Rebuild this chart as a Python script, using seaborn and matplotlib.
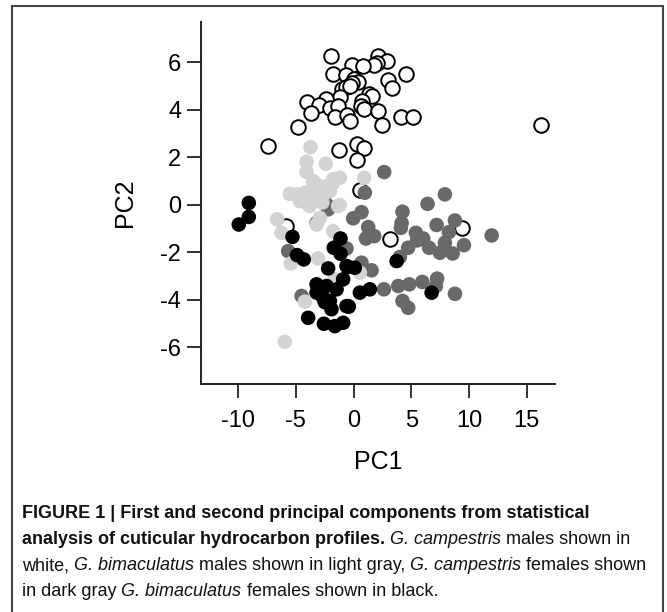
import numpy as np
import pandas as pd
import matplotlib
matplotlib.use("Agg")
import matplotlib.pyplot as plt
import seaborn as sns

# G. campestris males (white)
camp_m_pc1 = [-1.97, 2.13, 2.86, 1.99, 1.79, -0.17, 0.83, -1.77, -0.69, 4.53, 0.05, 0.40,
              -0.17, 3.00, 3.35, -1.04, -0.69, -0.32, 1.33, 1.61, -1.19, -2.40, -4.07, -2.98,
              -2.05, -1.33, 0.69, 0.63, 0.92, 2.13, -3.70, -1.62, -0.61, -0.32, 2.48, 4.10,
              5.11, -4.80, -7.40, -1.27, 0.26, 0.92, 0.26, 16.2, 0.55, 3.17, 9.36, -5.89]
camp_m_pc2 = [6.29, 6.29, 6.05, 5.98, 5.88, 5.91, 5.84, 5.49, 5.46, 5.52, 5.28, 5.18,
              5.14, 5.24, 4.93, 4.88, 4.96, 5.00, 4.65, 4.58, 4.53, 4.44, 4.34, 4.20,
              4.06, 4.16, 4.37, 4.18, 4.02, 3.95, 3.87, 3.69, 3.80, 3.55, 3.38, 3.69,
              3.69, 3.28, 2.47, 2.29, 2.58, 2.40, 1.87, 3.36, 0.61, -1.46, -0.97, -0.90]

# G. bimaculatus males (light gray)
bima_m_pc1 = [-3.73, -4.07, -2.40, -4.07, -3.50, -1.77, -1.19, 0.92, -3.20, -2.34, -1.77,
              -5.52, -4.94, -4.22, -3.50, -4.65, -4.07, -3.79, -3.20, -2.63, -2.05, -1.33,
              -2.92, -3.20, -6.62, -6.24, -1.77, -3.07, -5.43, -4.22, -5.95, -1.19, 0.55,
              -1.62, -4.40, -2.70]
bima_m_pc2 = [2.43, 1.81, 1.73, 1.38, 1.00, 1.07, 1.14, 1.14, 0.86, 0.79, 0.93,
              0.46, 0.44, 0.51, 0.44, 0.16, 0.08, -0.05, 0.29, 0.44, 0.58, -0.05,
              -0.55, -0.83, -0.61, -1.18, -1.11, -2.26, -2.47, -4.08, -5.77, -0.01, -2.86,
              -3.14, 0.20, 0.10]

# G. campestris females (dark gray)
camp_f_pc1 = [2.65, 7.91, 6.41, 0.98, 4.24, 0.69, -0.03, 4.16, 4.10, 1.27, 1.79, 1.07,
              7.19, 8.78, 8.26, 5.40, 6.03, 5.51, 4.73, 6.55, 7.91, 7.48, 8.58, 9.56,
              11.96, 4.01, 0.69, 1.56, -0.61, 2.63, 3.87, 4.82, 5.95, 7.24, 7.13, 8.78,
              4.24, 4.73, -2.34, -2.20, -3.20, -5.66, -4.50]
camp_f_pc2 = [1.38, 0.44, 0.04, 0.51, -0.29, -0.31, -0.57, -0.77, -0.97, -0.94, -1.32, -1.42,
              -0.85, -0.66, -1.15, -1.18, -1.42, -1.50, -1.81, -1.81, -1.60, -2.02, -2.05, -1.70,
              -1.29, -2.20, -2.44, -2.76, -1.84, -3.56, -3.42, -3.35, -3.25, -3.11, -3.42, -3.75,
              -4.05, -4.34, 0.02, -0.19, -0.76, -1.95, -3.84]

# G. bimaculatus females (black)
bima_f_pc1 = [-9.07, -9.07, -9.94, -5.29, -1.13, -1.71, -1.13, -0.61, -4.89, -4.31, -2.20,
              -3.20, -2.34, -1.47, -0.90, -3.20, -2.63, -2.05, -1.91, -3.93, -2.57, -1.62,
              -0.90, -0.61, 3.73, -0.47, 0.11, 0.55, 1.41, 6.76, -0.47, -2.49, -0.41]
bima_f_pc2 = [0.08, -0.51, -0.83, -1.35, -1.42, -1.81, -2.06, -2.58, -2.12, -2.30, -2.68,
              -3.35, -3.42, -3.56, -3.14, -3.70, -3.92, -4.05, -4.40, -4.76, -5.01, -5.11,
              -4.97, -4.27, -2.37, -2.62, -2.65, -3.70, -3.56, -3.70, -4.27, -4.10, -4.29]

x_ticks = [-10, -5, 0, 5, 10, 15]
y_ticks = [-6, -4, -2, 0, 2, 4, 6]

caption = [
    [("FIGURE 1 | First and second principal components from statistical", "bold", "normal")],
    [("analysis of cuticular hydrocarbon profiles.", "bold", "normal"),
     (" G. campestris", "normal", "italic"), (" males shown in", "normal", "normal")],
    [("white, ", "normal", "normal"), ("G. bimaculatus", "normal", "italic"),
     (" males shown in light gray, ", "normal", "normal"), ("G. campestris", "normal", "italic"),
     (" females shown", "normal", "normal")],
    [("in dark gray ", "normal", "normal"), ("G. bimaculatus", "normal", "italic"),
     (" females shown in black.", "normal", "normal")],
]

sns.set_style("ticks")
plt.rcParams['font.family'] = ['Liberation Sans', 'DejaVu Sans']

fig = plt.figure(figsize=(6.67, 6.12), dpi=100)
ax = fig.add_axes([0.301, 0.3725, 0.531, 0.5915])

groups = [
    (camp_m_pc1, camp_m_pc2, "white", "black"),
    (camp_f_pc1, camp_f_pc2, "#696969", "none"),
    (bima_m_pc1, bima_m_pc2, "#d3d3d3", "none"),
    (bima_f_pc1, bima_f_pc2, "black", "none"),
]
for px, py, fc, ec in groups:
    df = pd.DataFrame({"PC1": px, "PC2": py})
    sns.scatterplot(data=df, x="PC1", y="PC2", ax=ax, s=110, color=fc,
                    edgecolor=ec, linewidth=1.4 if ec != "none" else 0)

ax.set_xlim(-13.23, 17.44)
ax.set_ylim(-7.55, 7.7)
ax.set_xticks(x_ticks)
ax.set_yticks(y_ticks)
ax.set_xticklabels([str(t) for t in x_ticks])
ax.set_yticklabels([str(t) for t in y_ticks])
sns.despine(ax=ax)
for s in ["left", "bottom"]:
    ax.spines[s].set_linewidth(1.4)
    ax.spines[s].set_color("#222222")
ax.tick_params(axis="both", length=10, width=1.3, color="#222222", labelsize=17,
               labelcolor="black")
ax.tick_params(axis="x", pad=9)
ax.tick_params(axis="y", pad=4)
ax.set_xlabel("PC1", fontsize=18, labelpad=13, color="black")
ax.set_ylabel("PC2", fontsize=18, labelpad=17, color="black")

# outer frame
fig.patches.append(plt.Rectangle((0.018, -0.05), 0.9765, 1.04, transform=fig.transFigure,
                                 fill=False, edgecolor="#444444", linewidth=1.5))

# caption with mixed bold / italic runs
fig.canvas.draw()
renderer = fig.canvas.get_renderer()
line_y = [513, 540, 566, 591]
for runs, ypx in zip(caption, line_y):
    xpx = 22
    for txt, weight, style in runs:
        t = fig.text(xpx / 667, 1 - ypx / 612, txt, fontsize=13, fontweight=weight,
                     fontstyle=style, va="center", ha="left", color="#111111")
        bb = t.get_window_extent(renderer=renderer)
        xpx += bb.width

fig.savefig("out.png", dpi=100)
